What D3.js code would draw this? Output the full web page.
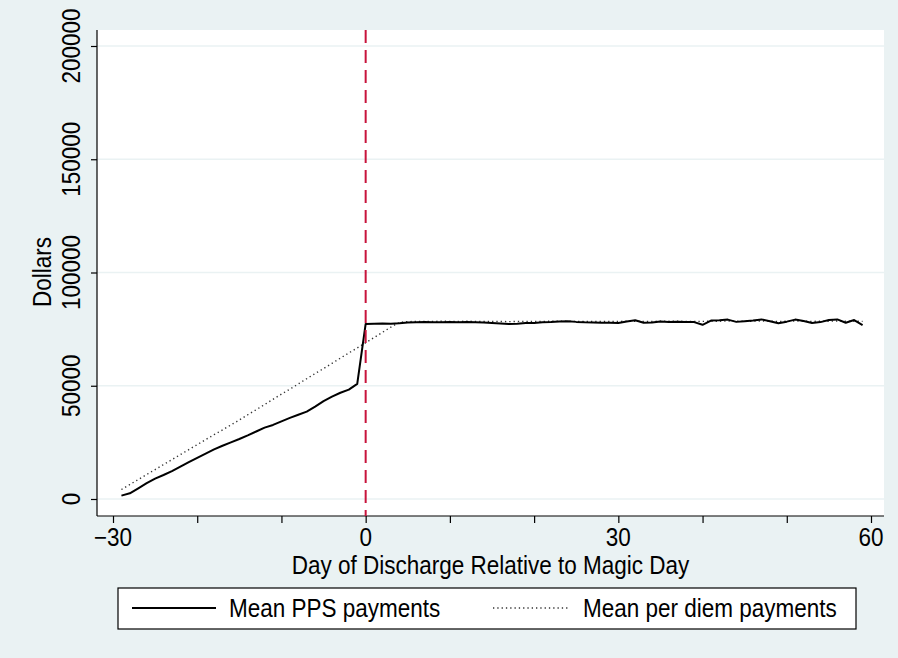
<!DOCTYPE html>
<html><head><meta charset="utf-8">
<script src="https://cdn.jsdelivr.net/npm/d3@7"></script>
<style>body{margin:0;background:#EAF2F3}svg{display:block}</style>
</head><body><svg id="c" width="898" height="658"></svg>
<script>
const days = [-29,-28,-27,-26,-25,-24,-23,-22,-21,-20,-19,-18,-17,-16,-15,-14,-13,-12,-11,-10,-9,-8,-7,-6,-5,-4,-3,-2,-1,0,
  1,2,3,4,5,6,7,8,9,10,11,12,13,14,15,16,17,18,19,20,21,22,23,24,25,26,27,28,29,30,
  31,32,33,34,35,36,37,38,39,40,41,42,43,44,45,46,47,48,49,50,51,52,53,54,55,56,57,58,59];
const ppsPayments = [1500,2500,4700,7000,9000,10600,12300,14300,16300,18200,20000,21900,23500,25000,26500,28100,29800,31500,32700,34300,35800,37200,38600,40800,43200,45200,46900,48300,50800,77300,
  77400,77500,77400,77600,77900,78000,78100,78000,78000,78100,78000,78100,78000,77900,77700,77500,77300,77400,77700,77700,
  78000,78100,78400,78500,78200,78000,77900,77800,77800,77700,78400,78900,77800,77900,78400,78200,78300,78200,78100,76900,
  78800,78900,79200,78200,78500,78800,79300,78500,77600,78300,79200,78600,77700,78100,79000,79300,77800,79000,76800];
const perDiemPayments = [4200,6400,8600,10800,13000,15200,17400,19600,21800,24000,26200,28400,30500,32700,34900,37200,39400,41700,44000,46300,48500,50800,53100,55400,57600,59900,62200,64500,66700,69000,
  71300,73600,75900,78000,78300,78400,78400,78400,78500,78400,78400,78500,78400,78400,78400,78400,78300,78400,78400,78400,
  78400,78500,78500,78500,78400,78400,78400,78400,78400,78400,78500,78500,78400,78400,78500,78500,78500,78400,78400,78400,
  78500,78500,78600,78500,78500,78500,78600,78500,78400,78500,78600,78500,78400,78500,78500,78600,78500,78500,78400];
const yTicks = [0,50000,100000,150000,200000];
const xMajorTicks = [-30,0,30,60];
const xMinorTicks = [-20,-10,10,20,40,50];
const seriesNames = ["Mean PPS payments","Mean per diem payments"];

const svg = d3.select("#c");
const W = 898, H = 658;
const plot = {left:97, right:884, top:30, bottom:516};
const x = d3.scaleLinear().domain([-30,60]).range([113,871]);
const y = d3.scaleLinear().domain([0,200000]).range([499,46]);
const FONT = "'Liberation Sans', Arial, Helvetica, sans-serif";
const FS = 25, SX = 0.9;

svg.append("rect").attr("width",W).attr("height",H).attr("fill","#EAF2F3");
svg.append("rect").attr("x",plot.left).attr("y",plot.top)
  .attr("width",plot.right-plot.left).attr("height",plot.bottom-plot.top).attr("fill","#fff");

// grid
svg.append("g").selectAll("line").data(yTicks).join("line")
  .attr("x1",plot.left).attr("x2",plot.right)
  .attr("y1",d=>y(d)).attr("y2",d=>y(d))
  .attr("stroke","#EAF2F3").attr("stroke-width",1.5);

// y axis
const yAxis = svg.append("g").attr("transform",`translate(${plot.left},0)`)
  .call(d3.axisLeft(y).tickValues(yTicks).tickSize(6).tickFormat(""));
yAxis.select(".domain").remove();
yAxis.selectAll(".tick line").attr("stroke","#000").attr("stroke-width",1.2);
svg.append("line").attr("x1",plot.left).attr("x2",plot.left).attr("y1",plot.top).attr("y2",plot.bottom)
  .attr("stroke","#000").attr("stroke-width",1.2);
svg.append("g").selectAll("text").data(yTicks).join("text")
  .attr("transform",d=>`translate(80,${y(d)}) rotate(-90) scale(${SX},1)`)
  .attr("text-anchor","middle").attr("font-family",FONT).attr("font-size",FS)
  .text(d=>d3.format("d")(d));
svg.append("text").attr("transform",`translate(51,272) rotate(-90) scale(${SX},1)`)
  .attr("text-anchor","middle").attr("font-family",FONT).attr("font-size",FS).text("Dollars");

// x axis
const xAxis = svg.append("g").attr("transform",`translate(0,${plot.bottom})`)
  .call(d3.axisBottom(x).tickValues(xMajorTicks.concat(xMinorTicks)).tickSize(7).tickFormat(""));
xAxis.select(".domain").remove();
xAxis.selectAll(".tick line").attr("stroke","#000").attr("stroke-width",1.2);
svg.append("line").attr("x1",plot.left).attr("x2",plot.right).attr("y1",plot.bottom).attr("y2",plot.bottom)
  .attr("stroke","#000").attr("stroke-width",1.2);
svg.append("g").selectAll("text").data(xMajorTicks).join("text")
  .attr("transform",d=>`translate(${x(d)},546) scale(${SX},1)`)
  .attr("text-anchor","middle").attr("font-family",FONT).attr("font-size",FS)
  .text(d=>d<0?"\u2212"+Math.abs(d):String(d));
svg.append("text").attr("transform",`translate(${(plot.left+plot.right)/2},574) scale(${SX},1)`)
  .attr("text-anchor","middle").attr("font-family",FONT).attr("font-size",FS)
  .text("Day of Discharge Relative to Magic Day");

// series
const rowsPPS = days.map((d,i)=>({d, v:ppsPayments[i]}));
const rowsPD = days.map((d,i)=>({d, v:perDiemPayments[i]}));
const line = d3.line().x(r=>x(r.d)).y(r=>y(r.v));
svg.append("path").datum(rowsPD).attr("d",line).attr("fill","none")
  .attr("stroke","#333").attr("stroke-width",1.4).attr("stroke-dasharray","1.3,3");
svg.append("path").datum(rowsPPS).attr("d",line).attr("fill","none")
  .attr("stroke","#000").attr("stroke-width",2).attr("stroke-linejoin","round");

// vertical dashed line at 0
svg.append("line").attr("x1",x(0)).attr("x2",x(0)).attr("y1",plot.top).attr("y2",plot.bottom)
  .attr("stroke","#C8143C").attr("stroke-width",2).attr("stroke-dasharray","13,7");

// legend
const lg = svg.append("g");
lg.append("rect").attr("x",118).attr("y",588).attr("width",738).attr("height",41)
  .attr("fill","#fff").attr("stroke","#000").attr("stroke-width",1.2);
lg.append("line").attr("x1",132).attr("x2",216).attr("y1",608).attr("y2",608)
  .attr("stroke","#000").attr("stroke-width",2);
lg.append("line").attr("x1",493).attr("x2",568).attr("y1",608).attr("y2",608)
  .attr("stroke","#333").attr("stroke-width",1.4).attr("stroke-dasharray","1.3,3");
lg.append("text").attr("transform",`translate(229,617) scale(${SX},1)`)
  .attr("font-family",FONT).attr("font-size",FS).text(seriesNames[0]);
lg.append("text").attr("transform",`translate(583,617) scale(${SX},1)`)
  .attr("font-family",FONT).attr("font-size",FS).text(seriesNames[1]);
</script></body></html>
